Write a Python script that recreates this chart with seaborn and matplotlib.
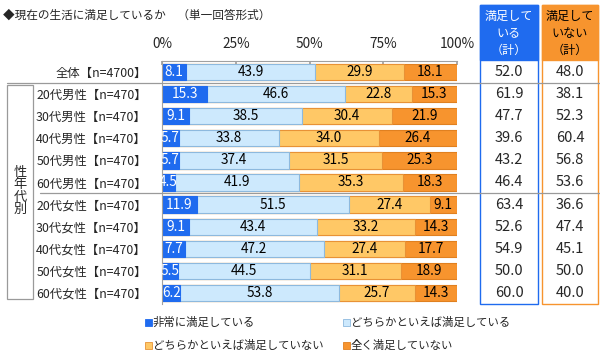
import numpy as np
import pandas as pd
import matplotlib
matplotlib.use("Agg")
import matplotlib.pyplot as plt
from matplotlib.patches import Rectangle
from matplotlib.lines import Line2D
import seaborn as sns

# データ
labels = ["全体【n=4700】",
          "20代男性【n=470】", "30代男性【n=470】", "40代男性【n=470】",
          "50代男性【n=470】", "60代男性【n=470】",
          "20代女性【n=470】", "30代女性【n=470】", "40代女性【n=470】",
          "50代女性【n=470】", "60代女性【n=470】"]
very_sat = [8.1, 15.3, 9.1, 5.7, 5.7, 4.5, 11.9, 9.1, 7.7, 5.5, 6.2]
some_sat = [43.9, 46.6, 38.5, 33.8, 37.4, 41.9, 51.5, 43.4, 47.2, 44.5, 53.8]
some_unsat = [29.9, 22.8, 30.4, 34.0, 31.5, 35.3, 27.4, 33.2, 27.4, 31.1, 25.7]
not_sat = [18.1, 15.3, 21.9, 26.4, 25.3, 18.3, 9.1, 14.3, 17.7, 18.9, 14.3]
sat_total = [52.0, 61.9, 47.7, 39.6, 43.2, 46.4, 63.4, 52.6, 54.9, 50.0, 60.0]
unsat_total = [48.0, 38.1, 52.3, 60.4, 56.8, 53.6, 36.6, 47.4, 45.1, 50.0, 40.0]
series_names = ["非常に満足している", "どちらかといえば満足している",
                "どちらかといえば満足していない", "全く満足していない"]
ticks = [0, 25, 50, 75, 100]
tick_labels = ["0%", "25%", "50%", "75%", "100%"]

colors = ["#1F6BEF", "#CDE9FD", "#FFC866", "#F7942E"]
edges = ["#1F6BEF", "#8DB9DE", "#E89236", "#E08020"]
txt_colors = ["white", "black", "black", "black"]

sns.set_theme(style="white")
plt.rcParams["font.family"] = ["Noto Sans CJK JP", "DejaVu Sans"]

W, H = 600, 356
fig = plt.figure(figsize=(6, 3.56), dpi=100)


def fx(px):
    return px / W


def fy(py):
    return 1 - py / H


# 棒グラフの領域
ax_l, ax_r, ax_t, ax_b = 162, 457, 61, 304
ax = fig.add_axes([fx(ax_l), fy(ax_b), fx(ax_r - ax_l), (ax_b - ax_t) / H])

vals = np.array([very_sat, some_sat, some_unsat, not_sat])
cums = np.cumsum(vals, axis=0)
df = pd.DataFrame({"label": labels})
for k in range(4):
    df[f"c{k}"] = cums[k]

# 積み上げ：長い順に重ねて描く
for k in [3, 2, 1, 0]:
    sns.barplot(data=df, x=f"c{k}", y="label", orient="h", color=colors[k],
                edgecolor=edges[k], linewidth=0.8, width=0.74, saturation=1,
                ax=ax)

blue_patches = ax.containers[3].patches
for i in range(len(labels)):
    for k in range(4):
        start = cums[k][i] - vals[k][i]
        t = ax.text(start + vals[k][i] / 2, i, f"{vals[k][i]:.1f}",
                    ha="center", va="center", fontsize=9.8,
                    color=txt_colors[k])
        if k == 0:
            t.set_clip_path(blue_patches[i])

ax.set_xlim(0, 100)
ax.set_ylim(len(labels) - 0.5, -0.5)
ax.set_xlabel("")
ax.set_ylabel("")
ax.xaxis.tick_top()
ax.set_xticks(ticks)
ax.set_xticklabels(tick_labels, fontsize=9.8)
ax.tick_params(axis="x", direction="in", length=3, pad=7, color="#A0A0A0")
ax.tick_params(axis="y", length=0, pad=11, labelsize=8.9)
for s in ["right", "bottom"]:
    ax.spines[s].set_visible(False)
for s in ["top", "left"]:
    ax.spines[s].set_color("#A0A0A0")
    ax.spines[s].set_linewidth(0.8)

# タイトル
fig.text(fx(3), fy(15), "◆現在の生活に満足しているか　（単一回答形式）",
         fontsize=8.4, ha="left", va="center")

# 右側の合計欄
row_y = [ax_t + (i + 0.5) * (ax_b - ax_t) / len(labels) for i in range(len(labels))]
cols = [(480, 538, "#1F6BEF", "満足して\nいる\n（計）", sat_total),
        (542, 598, "#F7942E", "満足して\nいない\n（計）", unsat_total)]
for x0, x1, c, head, tot in cols:
    fig.add_artist(Rectangle((fx(x0), fy(60)), fx(x1 - x0), (60 - 5) / H,
                             transform=fig.transFigure, facecolor=c,
                             edgecolor=c, linewidth=1))
    fig.add_artist(Rectangle((fx(x0), fy(ax_b)), fx(x1 - x0), (ax_b - 5) / H,
                             transform=fig.transFigure, facecolor="none",
                             edgecolor=c, linewidth=1))
    fig.text(fx((x0 + x1) / 2), fy(33), head, ha="center", va="center",
             fontsize=8.7, color="white" if c == "#1F6BEF" else "black",
             linespacing=1.4)
    for yv, v in zip(row_y, tot):
        fig.text(fx((x0 + x1) / 2), fy(yv), f"{v:.1f}", ha="center",
                 va="center", fontsize=10.5)

# 区切り線
fig.add_artist(Line2D([fx(7), fx(600)], [fy(83), fy(83)], color="#9A9A9A",
                      linewidth=0.9, transform=fig.transFigure))
fig.add_artist(Line2D([fx(40), fx(600)], [fy(193), fy(193)], color="#9A9A9A",
                      linewidth=0.9, transform=fig.transFigure))

# 性年代別ボックス
fig.add_artist(Rectangle((fx(7), fy(299)), fx(26), (299 - 85) / H,
                         transform=fig.transFigure, facecolor="none",
                         edgecolor="#9A9A9A", linewidth=0.9))
fig.text(fx(20), fy(191), "性\n年\n代\n別", ha="center", va="center",
         fontsize=9.5, linespacing=0.95)

# 凡例
leg_pos = [(145, 322), (343, 322), (145, 345), (343, 345)]
for k, (lx, ly) in enumerate(leg_pos):
    fig.add_artist(Rectangle((fx(lx), fy(ly + 4)), fx(7), 7 / H,
                             transform=fig.transFigure, facecolor=colors[k],
                             edgecolor=edges[k], linewidth=0.6))
    fig.text(fx(lx + 8), fy(ly), series_names[k], ha="left", va="center",
             fontsize=8.2)

fig.savefig("out.png", dpi=100)
